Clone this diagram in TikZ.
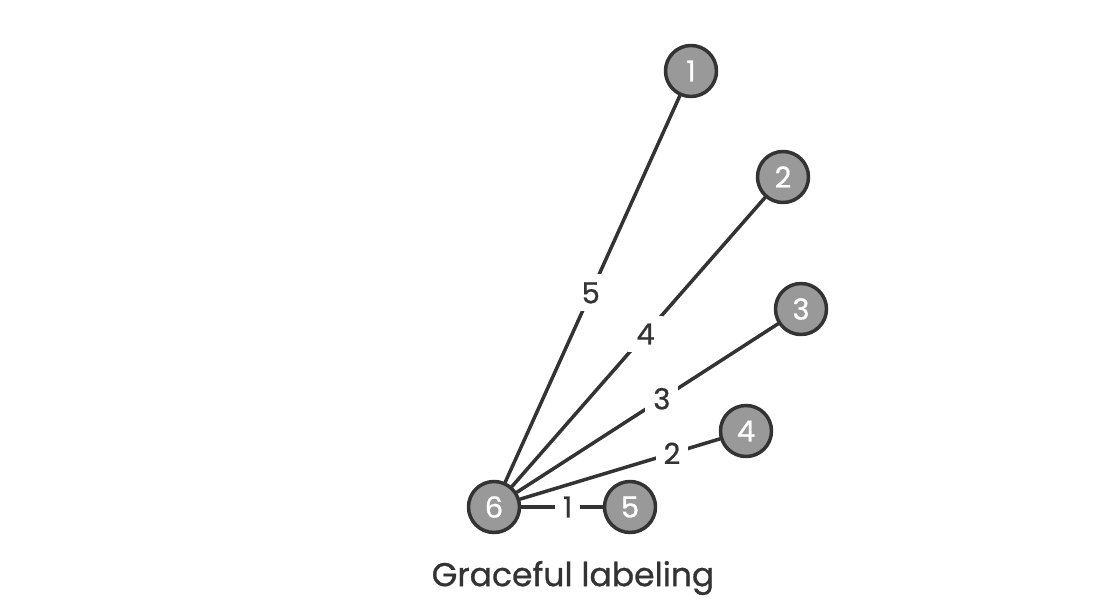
\documentclass[tikz,border=0pt]{standalone}
\usepackage{fontspec}
\setmainfont{Poppins}[FakeBold=0.8]
\definecolor{edgegray}{HTML}{333333}
\definecolor{nodegray}{HTML}{999999}
\tikzset{
	vert/.style={circle, draw=edgegray, fill=nodegray, line width=3.5pt, minimum size=51pt, inner sep=0pt, text=white, font=\fontsize{29}{30}\selectfont},
	elab/.style={fill=white, inner sep=8pt, text=edgegray, font=\fontsize{29}{30}\selectfont},
}
\begin{document}
\begin{tikzpicture}[x=1pt, y=-1pt, line join=round, line cap=round]
		\useasboundingbox[fill=white] (0,0) rectangle (1120,616);
		% vertices
		\node[vert] (v6) at (494,507) {6};
		\node[vert] (v1) at (691,71) {1};
		\node[vert] (v2) at (783,177) {2};
		\node[vert] (v3) at (801,309) {3};
		\node[vert] (v4) at (746,431) {4};
		\node[vert] (v5) at (630,507) {5};
		% edges with their labels
		\begin{scope}[line width=3.5pt, edgegray]
		\draw (v6) -- node[elab, pos=0.57]{1} (v5);
		\draw (v6) -- node[elab, pos=0.76]{2} (v4);
		\draw (v6) -- node[elab, pos=0.555]{3} (v3);
		\draw (v6) -- node[elab, pos=0.528]{4} (v2);
		\draw (v6) -- node[elab, pos=0.49]{5} (v1);
		\end{scope}
		\node[text=edgegray, font=\fontsize{33}{35}\selectfont] (title) at (573,578) {Graceful labeling};
\end{tikzpicture}
\end{document}
